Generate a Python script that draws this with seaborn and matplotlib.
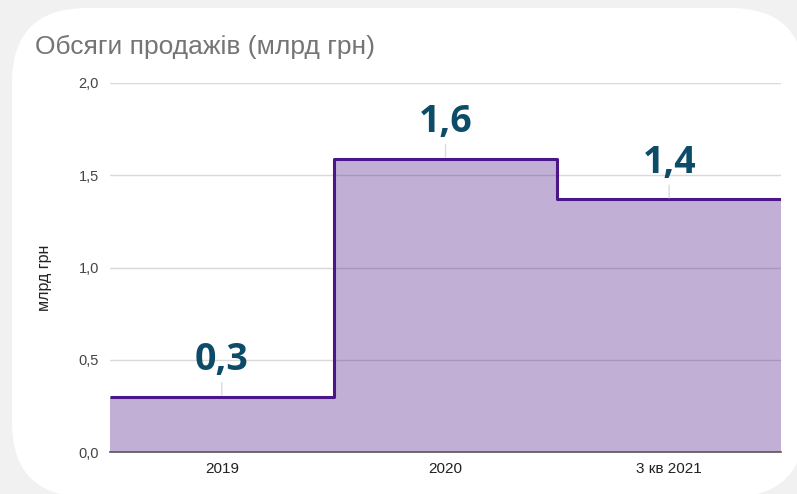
import numpy as np
import pandas as pd
import matplotlib.pyplot as plt
import seaborn as sns
from matplotlib.patches import FancyBboxPatch

# chart data
periods = ["2019", "2020", "3 кв 2021"]
sales = [0.30, 1.59, 1.37]
value_labels = ["0,3", "1,6", "1,4"]
y_ticks = [0.0, 0.5, 1.0, 1.5, 2.0]
y_tick_labels = ["0,0", "0,5", "1,0", "1,5", "2,0"]

# step edges: each category covers [i-0.5, i+0.5]
pos = np.arange(len(periods))
edges = np.append(pos - 0.5, pos[-1] + 0.5)
step_vals = sales + [sales[-1]]
df = pd.DataFrame({"x": edges, "y": step_vals})

sns.set_style("white")
plt.rcParams["font.family"] = ["Liberation Sans", "DejaVu Sans"]

line_col = "#4a1688"
fig = plt.figure(figsize=(7.97, 4.94), dpi=100, facecolor="#f1f1f1")

# white rounded card behind the chart (pixel coordinates)
card = FancyBboxPatch((12, -3), 793, 489, boxstyle="round,pad=0,rounding_size=75",
                      transform=None, facecolor="white", edgecolor="none", zorder=-5)
fig.patches.append(card)

ax = fig.add_axes([110 / 797, 1 - 452 / 494, 671 / 797, 369 / 494])
ax.set_facecolor("none")
ax.set_zorder(2)

ax.fill_between(df["x"], df["y"], step="post", color=line_col, alpha=0.34, lw=0, zorder=2)
sns.lineplot(data=df, x="x", y="y", drawstyle="steps-post", color=line_col, lw=2.2,
             solid_joinstyle="round", solid_capstyle="butt", ax=ax, zorder=3)

for i, v in enumerate(sales):
    ax.annotate(value_labels[i], xy=(pos[i], v), xytext=(0, 19), textcoords="offset points",
                ha="center", va="baseline", fontsize=27, fontweight="bold", color="#0d4c69",
                family=["Open Sans", "DejaVu Sans"],
                arrowprops=dict(arrowstyle="-", color="#d6dde2", lw=1, shrinkA=0, shrinkB=1),
                zorder=4)

ax.set_xlim(edges[0], edges[-1])
ax.set_ylim(0, 2)
ax.set_xticks(pos)
ax.set_xticklabels(periods)
ax.set_yticks(y_ticks)
ax.set_yticklabels(y_tick_labels)
ax.tick_params(axis="both", length=0, colors="#222222")
ax.tick_params(axis="y", pad=8, labelcolor="#444444", labelsize=10.5)
ax.tick_params(axis="x", pad=7, labelsize=11)
ax.set_xlabel("")
ax.set_ylabel("")
ax.yaxis.grid(True, color="#d9d9d9", lw=1)
ax.set_axisbelow(True)
for s in ["top", "right", "left"]:
    ax.spines[s].set_visible(False)
ax.spines["bottom"].set_color("#555555")
ax.spines["bottom"].set_linewidth(1.2)
ax.spines["bottom"].set_zorder(5)

fig.text(35 / 797, 1 - 47 / 494, "Обсяги продажів (млрд грн)", fontsize=19,
         color="#757575", va="center", ha="left")
fig.text(45 / 797, 1 - 278 / 494, "млрд грн", fontsize=11.5, color="#222222",
         rotation=90, va="center", ha="center")

fig.savefig("out.png", dpi=100, facecolor=fig.get_facecolor())
